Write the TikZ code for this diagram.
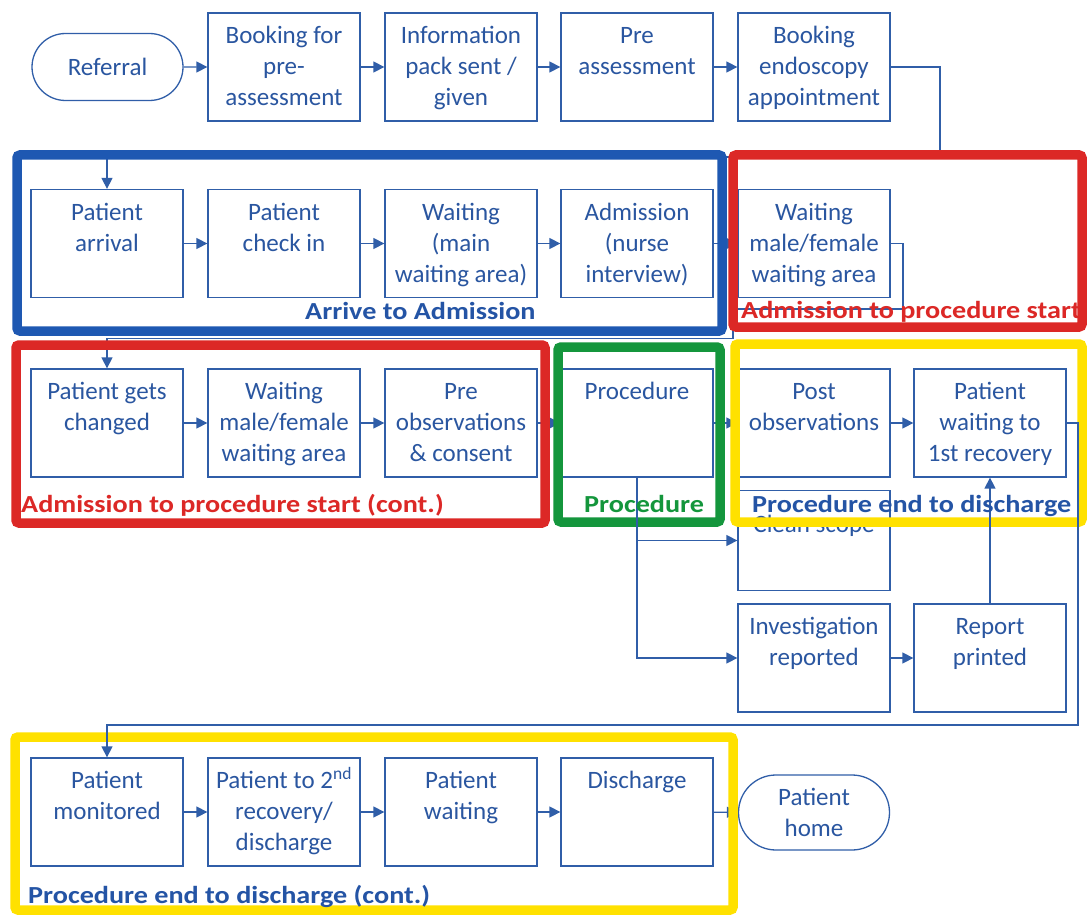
\documentclass[tikz,border=0pt]{standalone}
\usepackage{fontspec}
\setmainfont{Carlito}
\newfontfamily\lblfont[FakeStretch=1.15]{Carlito}
\usetikzlibrary{arrows.meta,shapes.misc}
\definecolor{bx}{RGB}{48,94,168}
\definecolor{tx}{RGB}{42,86,160}
\definecolor{fblue}{RGB}{30,88,178}
\definecolor{fred}{RGB}{220,40,38}
\definecolor{fgreen}{RGB}{20,150,60}
\definecolor{fyel}{RGB}{255,225,0}
\definecolor{lblue}{RGB}{36,84,165}
\newcommand\bxt[1]{\parbox[c][108pt][t]{150pt}{\centering\vspace*{9pt}\strut#1}}
\tikzset{
  box/.style={draw=bx, line width=1.3pt, inner sep=0pt, minimum width=152pt,
    minimum height=108pt, text=tx, font=\fontsize{25}{31}\selectfont},
  term/.style={rounded rectangle, draw=bx, line width=1.3pt, inner sep=0pt,
    minimum width=151pt, text=tx, align=center, font=\fontsize{25}{31}\selectfont},
  conn/.style={draw=bx, line width=1.4pt},
  arr/.style={conn, -{Triangle[length=11pt,width=11pt]}},
  frame/.style={line width=9.5pt, rounded corners=3pt},
  lbl/.style={anchor=base west, inner sep=0pt,
    font=\lblfont\bfseries\fontsize{24.5}{28}\selectfont}
}
\begin{document}
\begin{tikzpicture}[x=1pt,y=-1pt]
\useasboundingbox[fill=white] (0,0) rectangle (1087,915);
% row 1
\node[term, minimum height=67pt] (ref) at (107.5,67) {Referral};
\node[box] (b1) at (284,67) {\bxt{Booking for\\pre-\\assessment}};
\node[box] (b2) at (461,67) {\bxt{Information\\pack sent /\\given}};
\node[box] (b3) at (637,67) {\bxt{Pre\\assessment}};
\node[box] (b4) at (814,67) {\bxt{Booking\\endoscopy\\appointment}};
% row 2
\node[box] (arv) at (107,243.5) {\bxt{Patient\\arrival}};
\node[box] (chk) at (284,243.5) {\bxt{Patient\\check in}};
\node[box] (wm) at (461,243.5) {\bxt{Waiting\\(main\\waiting area)}};
\node[box] (adm) at (637,243.5) {\bxt{Admission\\(nurse\\interview)}};
\node[box] (wmf) at (814,243.5) {\bxt{Waiting\\male/female\\waiting area}};
% row 3
\node[box] (pgc) at (107,423) {\bxt{Patient gets\\changed}};
\node[box] (wmf2) at (284,423) {\bxt{Waiting\\male/female\\waiting area}};
\node[box] (pob) at (461,423) {\bxt{Pre\\observations\\\& consent}};
\node[box] (proc) at (637,423) {\bxt{Procedure}};
\node[box] (post) at (814,423) {\bxt{Post\\observations}};
\node[box] (pw1) at (990,423) {\bxt{Patient\\waiting to\\1st recovery}};
% side column
\node[box, minimum height=100pt] (cs) at (814,540.5) {\parbox[c][100pt][t]{150pt}{\centering\vspace*{20pt}\strut Clean scope}};
\node[box] (inv) at (814,658) {\bxt{Investigation\\reported}};
\node[box] (rep) at (990,658) {\bxt{Report\\printed}};
% row 5
\node[box] (mon) at (107,812) {\bxt{Patient\\monitored}};
\node[box] (p2) at (284,812) {\bxt{Patient to 2\textsuperscript{nd}\\recovery/\\discharge}};
\node[box] (pw) at (461,812) {\bxt{Patient\\waiting}};
\node[box] (dis) at (637,812) {\bxt{Discharge}};
\node[term, minimum height=75pt] (home) at (814,812.5) {Patient\\home};

\coordinate (kA) at (940,157);
\coordinate (k1) at (903,309);
\coordinate (k2) at (733,338.5);
\coordinate (k3) at (1078,725);

% connectors beneath the frames
\draw[arr] (b4.east) -| (kA) -| (arv.north);
\draw[arr] (adm) -- (wmf);
\draw[arr] (wmf.east) -| (k1) -| (k2) -| (pgc.north);
\draw[arr] (pob) -- (proc);
\draw[arr] (proc) -- (post);
\draw[arr] (dis) -- (home);

% frames
\draw[frame, draw=fblue] (17,155) rectangle (722,331);
\draw[frame, draw=fred] (733,155) rectangle (1082,327);
\draw[frame, draw=fred] (16,345) rectangle (545,523);
\draw[frame, draw=fgreen] (558,347) rectangle (720,522);
\draw[frame, draw=fyel] (735,344) rectangle (1082,522);
\draw[frame, draw=fyel] (15,737) rectangle (733,910);

% connectors above
\draw[arr] (ref) -- (b1);
\draw[arr] (b1) -- (b2);
\draw[arr] (b2) -- (b3);
\draw[arr] (b3) -- (b4);
\draw[arr] (arv) -- (chk);
\draw[arr] (chk) -- (wm);
\draw[arr] (wm) -- (adm);
\draw[arr] (pgc) -- (wmf2);
\draw[arr] (wmf2) -- (pob);
\draw[arr] (post) -- (pw1);
\draw[arr] (proc.south) |- (inv.west);
\draw[arr] (proc.south |- cs.west) -- (cs.west);
\draw[arr] (inv) -- (rep);
\draw[arr] (rep.north) -- (pw1.south);
\draw[arr] (pw1.east) -| (k3) -| (mon.north);
\draw[arr] (mon) -- (p2);
\draw[arr] (p2) -- (pw);
\draw[arr] (pw) -- (dis);

% labels
\node[lbl, text=lblue] (l1) at (305,319) {Arrive to Admission};
\node[lbl, text=fred] (l2) at (741,318) {Admission to procedure start};
\node[lbl, text=fred] (l3) at (21,512) {Admission to procedure start (cont.)};
\node[lbl, text=fgreen] (l4) at (584,512) {Procedure};
\node[lbl, text=lblue] (l5) at (752,512) {Procedure end to discharge};
\node[lbl, text=lblue] (l6) at (28,903) {Procedure end to discharge (cont.)};
\end{tikzpicture}
\end{document}
